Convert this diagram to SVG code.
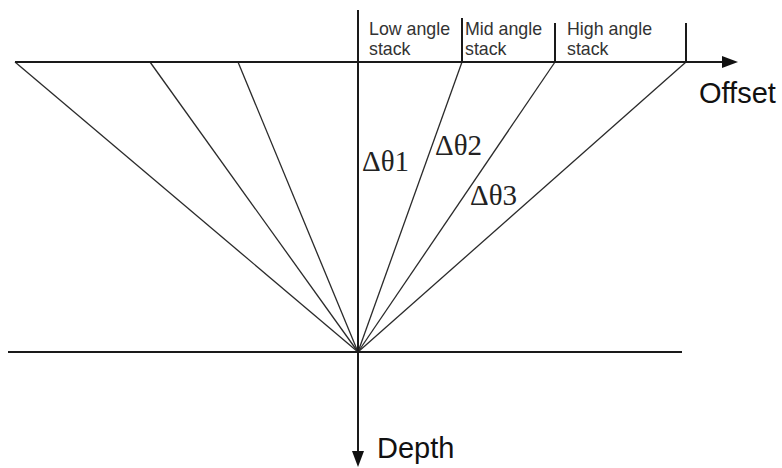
<svg xmlns="http://www.w3.org/2000/svg" width="782" height="468" viewBox="0 0 782 468">
<defs>
<style>
.axis{stroke:#1a1a1a;stroke-width:2;fill:none}
.ray{stroke:#2a2a2a;stroke-width:1.3;fill:none}
.lbl{font-family:"Liberation Sans",Arial,sans-serif;font-size:17.8px;fill:#333}
.big{font-family:"Liberation Sans",Arial,sans-serif;font-size:29px;fill:#111}
.ang{font-family:"Liberation Serif","Times New Roman",serif;font-size:29px;fill:#222}
</style>
</defs>
<rect width="782" height="468" fill="#fff"/>
<g id="connectors">
<line class="ray" x1="358" y1="352" x2="15" y2="62"/>
<line class="ray" x1="358" y1="352" x2="150" y2="62"/>
<line class="ray" x1="358" y1="352" x2="238" y2="62"/>
<line class="ray" x1="358" y1="352" x2="462" y2="62"/>
<line class="ray" x1="358" y1="352" x2="555" y2="62"/>
<line class="ray" x1="358" y1="352" x2="686" y2="62"/>
</g>
<g id="offset-axis">
<line class="axis" x1="15" y1="62" x2="724" y2="62"/>
<polygon points="738,62 722,56 722,68" fill="#111"/>
<text class="big" x="699" y="103">Offset</text>
</g>
<g id="depth-axis">
<line class="axis" x1="358" y1="10" x2="358" y2="452"/>
<polygon points="358,467 352,451 364,451" fill="#111"/>
<text class="big" x="377" y="458">Depth</text>
</g>
<g id="reflector">
<line class="axis" x1="8" y1="352" x2="682" y2="352"/>
</g>
<g id="ticks">
<line class="axis" x1="462" y1="18" x2="462" y2="62"/>
<line class="axis" x1="555" y1="23" x2="555" y2="62"/>
<line class="axis" x1="686" y1="23" x2="686" y2="62"/>
</g>
<g id="low-stack"><text class="lbl" x="369" y="35">Low angle</text><text class="lbl" x="369" y="55">stack</text></g>
<g id="mid-stack"><text class="lbl" x="465" y="35">Mid angle</text><text class="lbl" x="465" y="55">stack</text></g>
<g id="high-stack"><text class="lbl" x="567" y="35">High angle</text><text class="lbl" x="567" y="55">stack</text></g>
<g id="angles">
<text class="ang" x="362" y="171">Δθ1</text>
<text class="ang" x="435" y="155">Δθ2</text>
<text class="ang" x="470" y="205">Δθ3</text>
</g>
</svg>
